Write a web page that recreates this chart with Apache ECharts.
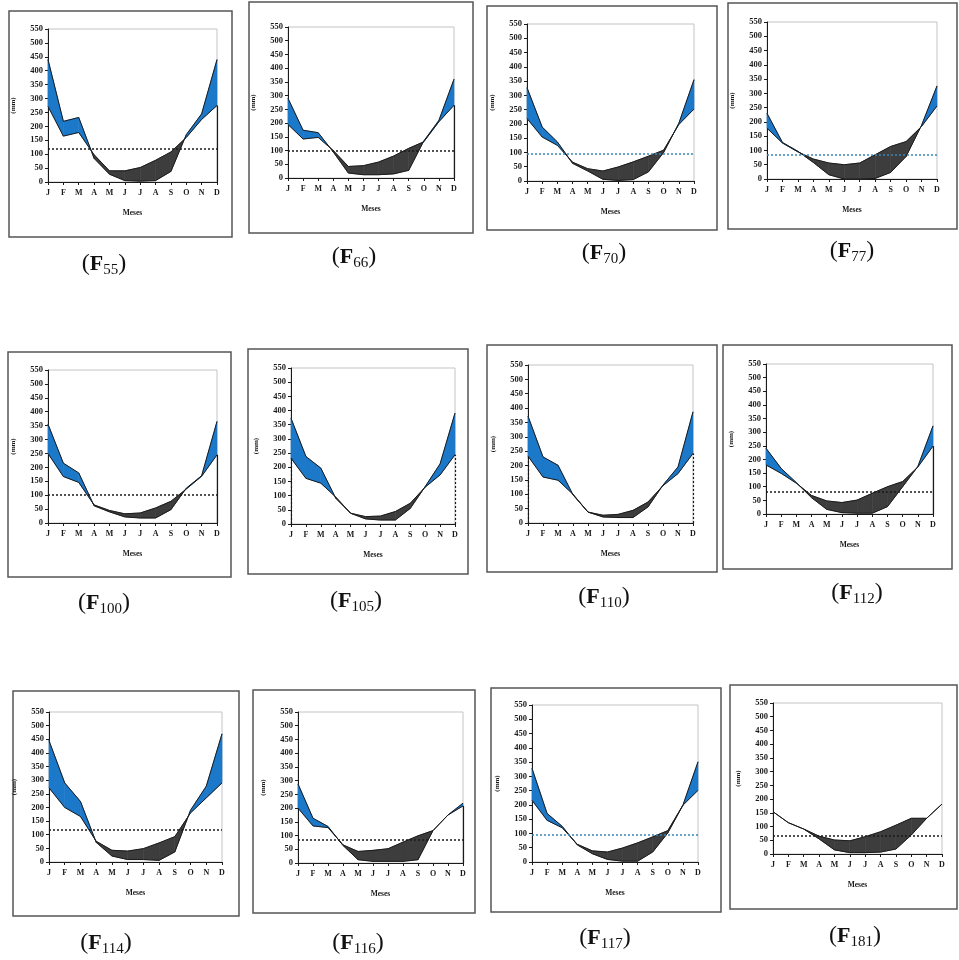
<!DOCTYPE html>
<html>
<head>
<meta charset="utf-8">
<script src="https://cdn.jsdelivr.net/npm/echarts@6/dist/echarts.min.js"></script>
<style>
  html, body { margin: 0; padding: 0; background: #fff; }
  #chart { width: 959px; height: 960px; }
</style>
</head>
<body>
<div id="chart"></div>
<script>
// month initials on the category axis
var MONTHS = ['J', 'F', 'M', 'A', 'M', 'J', 'J', 'A', 'S', 'O', 'N', 'D'];
var Y_MAX = 550, Y_STEP = 50;

// P = precipitacao, E = evapotranspiracao (mm)
var P55  = [440, 218, 232, 85, 28, 5, 3, 5, 38, 170, 245, 440];
var E55  = [272, 165, 178, 98, 40, 40, 52, 78, 108, 160, 225, 275];
var P66  = [290, 174, 165, 95, 18, 12, 12, 15, 28, 135, 210, 360];
var E66  = [195, 142, 148, 100, 42, 45, 58, 80, 108, 132, 205, 265];
var P70  = [327, 189, 137, 62, 35, 6, 2, 5, 32, 100, 202, 355];
var E70  = [219, 154, 125, 66, 43, 35, 49, 67, 87, 108, 198, 252];
var P77  = [230, 128, 97, 58, 15, 0, 0, 2, 23, 79, 188, 326];
var E77  = [178, 126, 95, 70, 56, 50, 56, 85, 114, 131, 184, 256];
var P100 = [355, 215, 180, 62, 40, 22, 18, 18, 48, 125, 170, 365];
var E100 = [250, 167, 146, 65, 45, 33, 36, 54, 78, 122, 168, 245];
var P105 = [373, 238, 197, 91, 38, 18, 14, 14, 55, 132, 212, 391];
var E105 = [232, 161, 144, 95, 38, 26, 28, 44, 73, 130, 173, 244];
var P110 = [372, 230, 201, 98, 38, 21, 19, 19, 56, 132, 195, 387];
var E110 = [233, 160, 149, 100, 38, 27, 30, 44, 73, 130, 172, 242];
var P112 = [241, 167, 115, 60, 17, 5, 3, 3, 27, 100, 174, 323];
var E112 = [180, 149, 113, 68, 48, 42, 51, 76, 100, 119, 172, 249];
var P114 = [445, 290, 222, 72, 22, 9, 9, 6, 37, 190, 278, 470];
var E114 = [272, 200, 167, 76, 43, 40, 49, 70, 93, 180, 235, 290];
var P116 = [288, 163, 133, 64, 12, 6, 6, 6, 12, 118, 175, 218];
var E116 = [200, 135, 129, 66, 42, 46, 52, 76, 99, 118, 175, 208];
var P117 = [328, 170, 125, 60, 29, 9, 3, 3, 35, 102, 199, 351];
var E117 = [216, 146, 120, 62, 39, 35, 49, 67, 88, 110, 199, 251];
var P181 = [154, 114, 91, 55, 15, 5, 5, 7, 18, 69, 130, 182];
var E181 = [154, 114, 91, 65, 51, 48, 63, 81, 105, 130, 130, 182];

// mean line of each panel (null = none drawn)
var MEANS = [120, 100, 94, 85, 102, null, null, 82, 118, 85, 97, 67];
var NAMES = ['55', '66', '70', '77', '100', '105', '110', '112', '114', '116', '117', '181'];

var BLUE = '#1c78c9', DARK = '#3d3d3d', INK = '#1a1a1a', LINEBLUE = '#3b87b8';
var FONT = 'Liberation Serif';

var stations = [
  { p: P55,  e: E55,  meanColor: INK,      drop: 'solid' },
  { p: P66,  e: E66,  meanColor: INK,      drop: 'solid' },
  { p: P70,  e: E70,  meanColor: LINEBLUE, drop: null },
  { p: P77,  e: E77,  meanColor: LINEBLUE, drop: null },
  { p: P100, e: E100, meanColor: INK,      drop: 'solid' },
  { p: P105, e: E105, meanColor: INK,      drop: 'dotted' },
  { p: P110, e: E110, meanColor: INK,      drop: 'dotted' },
  { p: P112, e: E112, meanColor: INK,      drop: 'solid' },
  { p: P114, e: E114, meanColor: INK,      drop: null },
  { p: P116, e: E116, meanColor: INK,      drop: 'solid' },
  { p: P117, e: E117, meanColor: LINEBLUE, drop: null },
  { p: P181, e: E181, meanColor: INK,      drop: null }
];

// box [x, y, w, h], plot [left, top, w, h], label centre [x, y]
var layout = [
  { box: [9, 11, 223, 226],   plot: [48, 29, 169, 153],   label: [104, 264] },
  { box: [249, 2, 224, 231],  plot: [288, 27, 166, 151],  label: [354, 257] },
  { box: [487, 6, 230, 224],  plot: [527, 24, 167, 157],  label: [604, 253] },
  { box: [728, 3, 229, 226],  plot: [767, 22, 170, 157],  label: [852, 251] },
  { box: [8, 352, 223, 225],  plot: [48, 370, 169, 153],  label: [104, 603] },
  { box: [248, 349, 220, 225],plot: [291, 368, 164, 156], label: [356, 601] },
  { box: [487, 345, 230, 227],plot: [528, 365, 165, 158], label: [604, 597] },
  { box: [723, 345, 229, 224],plot: [766, 364, 167, 150], label: [857, 593] },
  { box: [13, 691, 226, 225], plot: [49, 712, 173, 150],  label: [106, 943] },
  { box: [253, 690, 222, 223],plot: [298, 712, 165, 151], label: [358, 943] },
  { box: [491, 688, 230, 224],plot: [532, 705, 166, 157], label: [605, 938] },
  { box: [730, 685, 227, 224],plot: [773, 703, 169, 151], label: [855, 936] }
];

var dom = document.getElementById('chart');
var chart = echarts.init(dom, null, { renderer: 'canvas' });

var grids = [], xAxes = [], yAxes = [], series = [], graphics = [];

function makeFill(p, e) {
  return function (params, api) {
    var k = api.value(0);
    var a0 = api.coord([k, p[k]]), a1 = api.coord([k + 1, p[k + 1]]);
    var b0 = api.coord([k, e[k]]), b1 = api.coord([k + 1, e[k + 1]]);
    var d0 = p[k] - e[k], d1 = p[k + 1] - e[k + 1];
    var kids = [];
    function poly(pts, d) {
      var col = d >= 0 ? BLUE : DARK;
      kids.push({ type: 'polygon', shape: { points: pts }, style: { fill: col, stroke: col, lineWidth: 0.6 } });
    }
    if (d0 * d1 >= 0) {
      if (d0 !== 0 || d1 !== 0) poly([a0, a1, b1, b0], d0 + d1);
    } else {
      // crossing of the two lines, found in pixel space
      var t = d0 / (d0 - d1);
      var c = [a0[0] + (a1[0] - a0[0]) * t, a0[1] + (a1[1] - a0[1]) * t];
      poly([a0, c, b0], d0);
      poly([c, a1, b1], d1);
    }
    return { type: 'group', children: kids };
  };
}

stations.forEach(function (s, i) {
  var L = layout[i];
  grids.push({
    left: L.plot[0], top: L.plot[1], width: L.plot[2], height: L.plot[3],
    show: true, borderColor: '#c4c4c4', borderWidth: 1
  });
  xAxes.push({
    gridIndex: i, type: 'category', data: MONTHS, boundaryGap: false,
    axisLine: { lineStyle: { color: INK, width: 1 } },
    axisTick: { show: true, length: 3, lineStyle: { color: INK } },
    axisLabel: { interval: 0, fontFamily: FONT, fontSize: 8, fontWeight: 'bold', color: INK, margin: 7 },
    splitLine: { show: false },
    name: 'Meses', nameLocation: 'middle', nameGap: 27,
    nameTextStyle: { fontFamily: FONT, fontSize: 7.5, fontWeight: 'bold', color: INK }
  });
  yAxes.push({
    gridIndex: i, type: 'value', min: 0, max: Y_MAX, interval: Y_STEP,
    axisLine: { show: true, lineStyle: { color: INK, width: 1 } },
    axisTick: { show: true, length: 3, lineStyle: { color: INK } },
    axisLabel: { fontFamily: FONT, fontSize: 8.5, fontWeight: 'bold', color: INK, margin: 5 },
    splitLine: { show: false },
    name: '(mm)', nameLocation: 'middle', nameRotate: 90, nameGap: 31,
    nameTextStyle: { fontFamily: FONT, fontSize: 7, fontWeight: 'bold', color: INK }
  });

  series.push({
    type: 'custom', xAxisIndex: i, yAxisIndex: i, silent: true, z: 2,
    data: MONTHS.slice(0, 11).map(function (m, k) { return k; }),
    renderItem: makeFill(s.p, s.e)
  });

  var pSeries = {
    type: 'line', xAxisIndex: i, yAxisIndex: i, data: s.p, symbol: 'none', silent: true, z: 3,
    lineStyle: { color: INK, width: 1 }
  };
  if (MEANS[i] != null) {
    pSeries.markLine = {
      silent: true, symbol: 'none', label: { show: false },
      lineStyle: { type: [2, 2], color: s.meanColor, width: 1.5 },
      data: [{ yAxis: MEANS[i] }]
    };
  }
  series.push(pSeries);

  var eSeries = {
    type: 'line', xAxisIndex: i, yAxisIndex: i, data: s.e, symbol: 'none', silent: true, z: 3,
    lineStyle: { color: INK, width: 1 }
  };
  if (s.drop) {
    var drops = [[{ coord: [11, 0] }, { coord: [11, s.e[11]] }]];
    if (s.drop === 'dotted') drops.push([{ coord: [0, 0] }, { coord: [0, s.e[0]] }]);
    eSeries.markLine = {
      silent: true, symbol: 'none', label: { show: false },
      lineStyle: { type: s.drop === 'dotted' ? [2, 2] : 'solid', color: INK, width: 1.2 },
      data: drops
    };
  }
  series.push(eSeries);

  graphics.push({
    type: 'rect', silent: true,
    shape: { x: L.box[0], y: L.box[1], width: L.box[2], height: L.box[3] },
    style: { fill: 'none', stroke: '#555', lineWidth: 1.5 }
  });
  graphics.push({
    type: 'text', silent: true, x: L.label[0], y: L.label[1],
    style: {
      text: '{p|(}{f|F}{s|' + NAMES[i] + '}{p|)}',
      align: 'center', verticalAlign: 'middle',
      rich: {
        p: { fontFamily: FONT, fontSize: 24, lineHeight: 28, fill: '#111' },
        f: { fontFamily: FONT, fontSize: 22, fontWeight: 'bold', fill: '#111' },
        s: { fontFamily: FONT, fontSize: 15, lineHeight: 15, verticalAlign: 'bottom', fill: '#111' }
      }
    }
  });
});

var option = {
  backgroundColor: '#fff',
  animation: false,
  grid: grids,
  xAxis: xAxes,
  yAxis: yAxes,
  series: series,
  graphic: graphics
};
chart.setOption(option);
window.addEventListener('resize', function () { chart.resize(); });
</script>
</body>
</html>
